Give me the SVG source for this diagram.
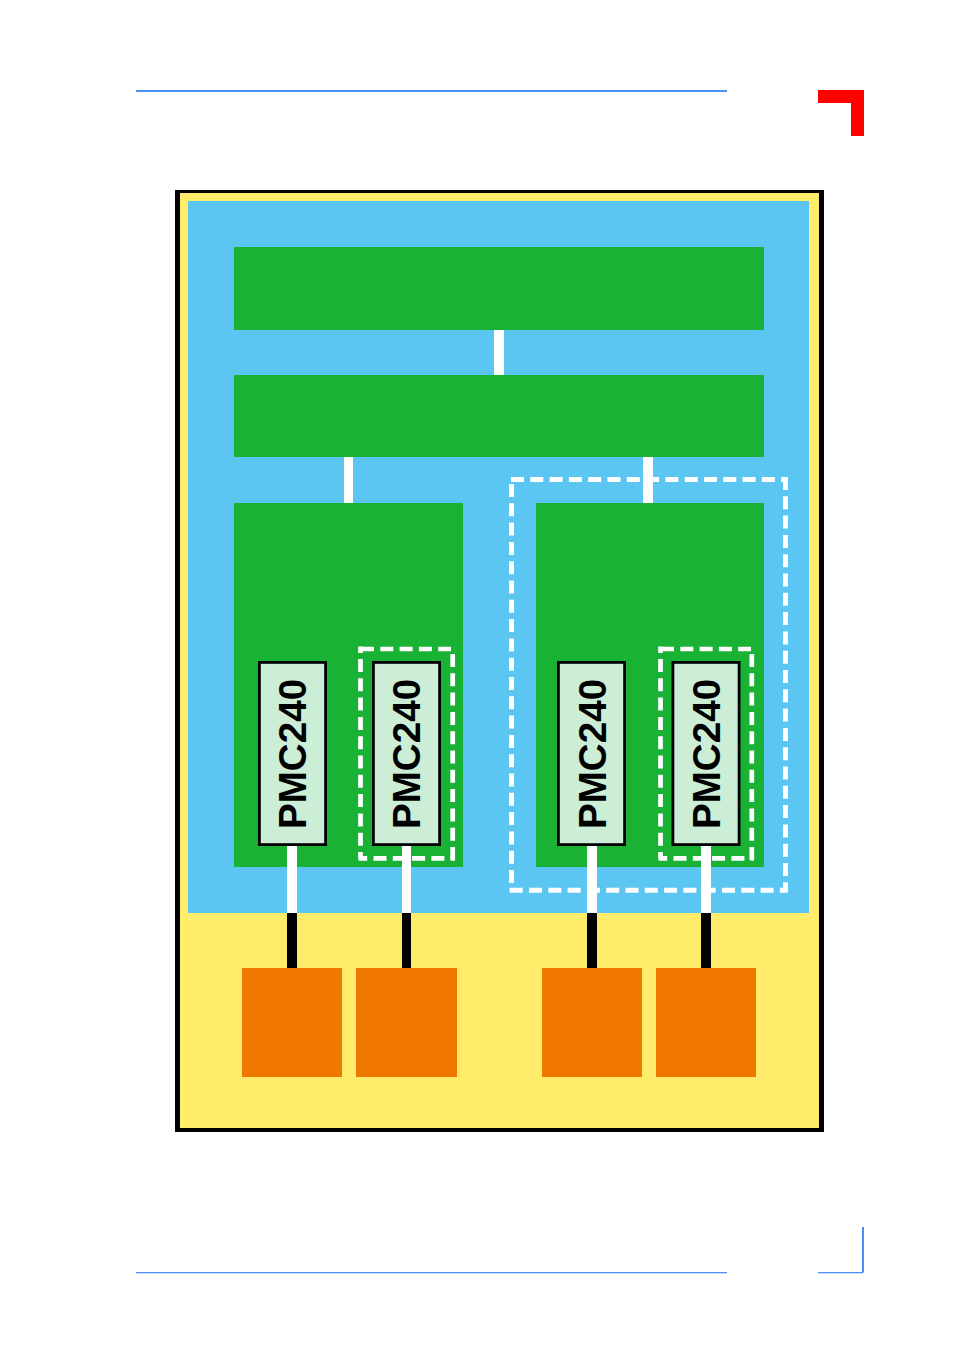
<svg xmlns="http://www.w3.org/2000/svg" width="954" height="1351" viewBox="0 0 954 1351">
<style>
.rule{fill:#4b8ffa}
.board{fill:#1ab235}
.dev{fill:#f07800}
.w{fill:#fff}
.k{fill:#000}
.pmc{fill:#ccedd6;stroke:#000;stroke-width:2.8}
.lbl{font-family:"Liberation Sans",Arial,sans-serif;font-weight:bold;font-size:38.6px;fill:#000}
.dash{stroke:#fff;fill:none;stroke-dasharray:13 6.3}
.stub{stroke:#fff;fill:none}
</style>
<rect width="954" height="1351" fill="#fff"/>
<g id="page-marks">
<rect class="rule" x="136" y="90" width="591" height="2"/>
<path d="M818 90H864V136H851V103H818Z" fill="#f00"/>
<rect class="rule" x="136" y="1272" width="591" height="1.3"/>
<rect class="rule" x="818" y="1272" width="45" height="1.3"/>
<rect class="rule" x="862" y="1227" width="2" height="45.5"/>
</g>
<g id="frame">
<rect x="175" y="190" width="649" height="942" fill="#000"/>
<rect x="180" y="193" width="639" height="935" fill="#ffec6b"/>
<rect x="188" y="201" width="621" height="712" fill="#5bc6f2"/>
</g>
<g id="board-top"><rect class="board" x="234" y="247" width="530" height="83"/></g>
<g id="board-mid"><rect class="board" x="234" y="375" width="530" height="82"/></g>
<g id="board-left"><rect class="board" x="234" y="503" width="229" height="364"/></g>
<g id="board-right"><rect class="board" x="536" y="503" width="228" height="364"/></g>
<g id="connectors">
<rect class="w" x="494" y="330" width="10" height="45"/>
<rect class="w" x="344" y="457" width="9" height="46"/>
<rect class="w" x="643" y="457" width="10" height="46"/>
<rect class="w" x="287" y="845" width="10" height="68"/><rect class="k" x="287" y="913" width="10" height="55"/>
<rect class="w" x="402" y="845" width="9" height="68"/><rect class="k" x="402" y="913" width="9" height="55"/>
<rect class="w" x="587" y="845" width="10" height="68"/><rect class="k" x="587" y="913" width="10" height="55"/>
<rect class="w" x="701" y="845" width="10" height="68"/><rect class="k" x="701" y="913" width="10" height="55"/>
</g>
<g id="dashed-right" stroke-width="5">
<path class="dash" d="M511 479.5H787.5"/>
<path class="dash" d="M509.7 890.3H787.5"/>
<path class="dash" d="M511.5 484V890"/>
<path class="dash" d="M785.5 477V892"/>
</g>
<g id="dashed-pmc2" stroke-width="4.7">
<path class="dash" d="M361 649H451"/>
<path class="dash" stroke-dashoffset="4.3" d="M358.5 858.3H455"/>
<path class="dash" d="M360.5 659V858"/>
<path class="stub" d="M360.5 646.5V653"/>
<path class="dash" d="M452.7 654V860"/>
</g>
<g id="dashed-pmc4" stroke-width="4.7">
<path class="dash" d="M661 649H751"/>
<path class="dash" stroke-dashoffset="4.3" d="M658.5 858.3H754"/>
<path class="dash" d="M660.5 659V858"/>
<path class="stub" d="M660.5 646.5V653"/>
<path class="dash" d="M751.8 654V860"/>
</g>
<g id="pmc1"><rect class="pmc" x="259.4" y="662.4" width="66.2" height="182.2"/><text class="lbl" transform="translate(305.5 829) rotate(-90)">PMC240</text></g>
<g id="pmc2"><rect class="pmc" x="373.4" y="662.4" width="66.2" height="182.2"/><text class="lbl" transform="translate(419.7 829) rotate(-90)">PMC240</text></g>
<g id="pmc3"><rect class="pmc" x="558.4" y="662.4" width="66.2" height="182.2"/><text class="lbl" transform="translate(605.5 829) rotate(-90)">PMC240</text></g>
<g id="pmc4"><rect class="pmc" x="672.9" y="662.4" width="66.2" height="182.2"/><text class="lbl" transform="translate(719.5 829) rotate(-90)">PMC240</text></g>
<g id="dev1"><rect class="dev" x="242" y="968" width="100" height="109"/></g>
<g id="dev2"><rect class="dev" x="356" y="968" width="101" height="109"/></g>
<g id="dev3"><rect class="dev" x="542" y="968" width="100" height="109"/></g>
<g id="dev4"><rect class="dev" x="656" y="968" width="100" height="109"/></g>
</svg>
